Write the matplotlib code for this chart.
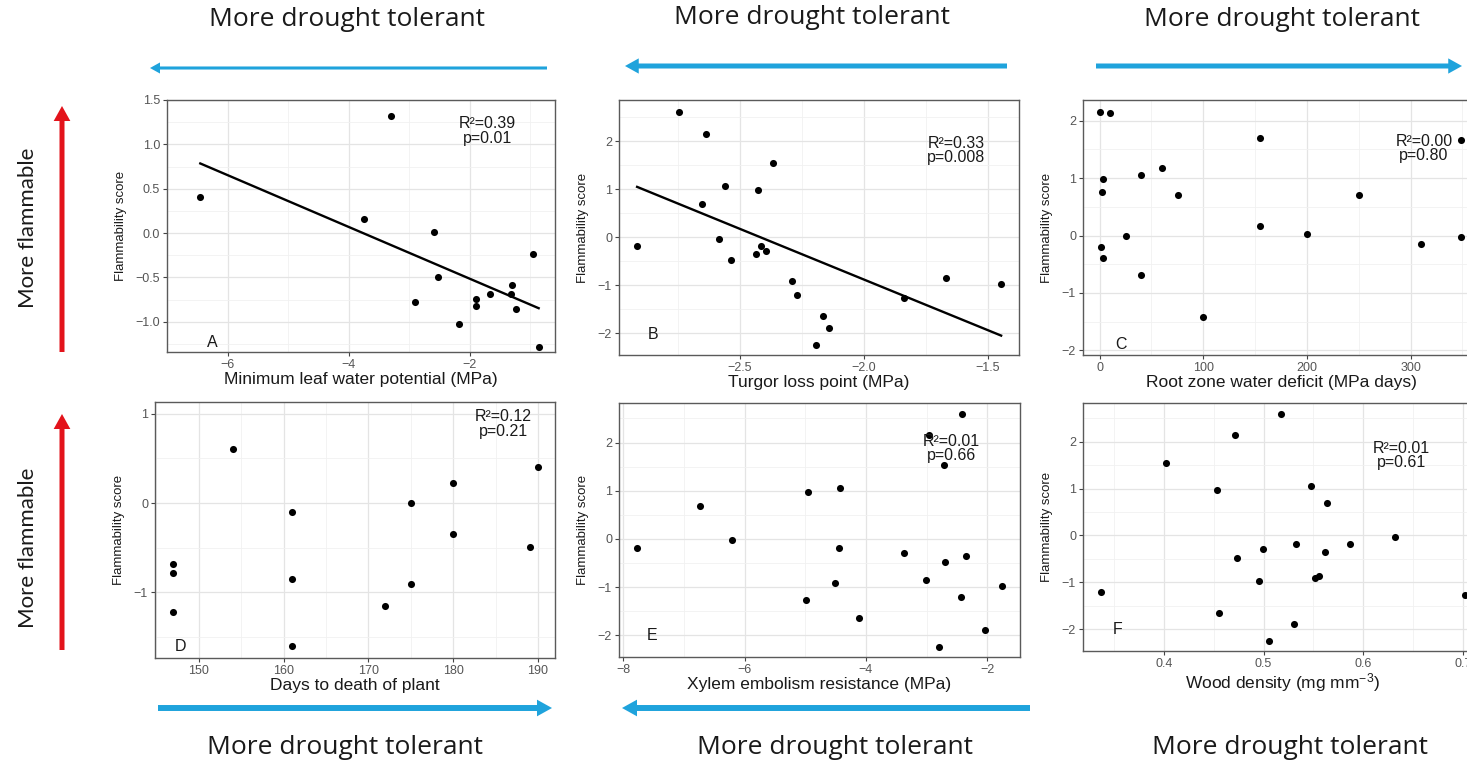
import numpy as np
import matplotlib
matplotlib.use("Agg")
import matplotlib.pyplot as plt

plt.rcParams['font.family'] = ['Liberation Sans', 'DejaVu Sans']
plt.rcParams['mathtext.fontset'] = 'custom'
plt.rcParams['mathtext.rm'] = 'Liberation Sans'
plt.rcParams['mathtext.it'] = 'Liberation Sans:italic'

# A: minimum leaf water potential
a_x = [-6.45, -3.30, -3.75, -2.59, -2.53, -2.90, -2.18, -1.89, -1.89, -1.66,
       -1.30, -1.32, -1.23, -0.95, -0.86]
a_y = [0.41, 1.32, 0.155, 0.01, -0.49, -0.78, -1.03, -0.74, -0.82, -0.69,
       -0.59, -0.69, -0.86, -0.23, -1.28]

# B: turgor loss point
b_x = [-2.746, -2.635, -2.365, -2.560, -2.427, -2.651, -2.914, -2.585, -2.536, -2.436,
       -2.413, -2.393, -2.290, -2.270, -2.164, -2.142, -2.193, -1.838, -1.668, -1.446]
b_y = [2.60, 2.15, 1.54, 1.06, 0.98, 0.70, -0.19, -0.03, -0.48, -0.35,
       -0.19, -0.28, -0.91, -1.20, -1.64, -1.89, -2.25, -1.26, -0.85, -0.98]

# C: root zone water deficit
c_x = [0.6, 10.5, 155, 349, 60.5, 40.4, 3.5, 2.2, 75.4, 250,
       155, 25.1, 200, 1.0, 3.5, 309.6, 349, 40.4, 100]
c_y = [2.15, 2.13, 1.70, 1.67, 1.17, 1.06, 0.98, 0.76, 0.70, 0.71,
       0.17, 0.0, 0.03, -0.20, -0.39, -0.145, -0.03, -0.69, -1.42]

# D: days to death of plant
d_x = [147, 147, 147, 154, 161, 161, 161, 172, 175, 175, 180, 180, 189, 190]
d_y = [-0.68, -0.78, -1.22, 0.61, -0.10, -0.85, -1.60, -1.16, 0.0, -0.91,
       0.23, -0.35, -0.49, 0.41]

# E: xylem embolism resistance
e_x = [-7.78, -6.73, -6.20, -4.95, -4.98, -4.43, -4.45, -4.51, -4.11, -3.37,
       -3.01, -2.96, -2.72, -2.70, -2.80, -2.42, -2.35, -2.43, -2.04, -1.76]
e_y = [-0.19, 0.69, -0.03, 0.98, -1.27, 1.05, -0.19, -0.91, -1.64, -0.29,
       -0.86, 2.15, 1.54, -0.48, -2.24, 2.59, -0.36, -1.20, -1.88, -0.98]

# F: wood density
f_x = [0.337, 0.402, 0.453, 0.455, 0.471, 0.473, 0.495, 0.499, 0.505, 0.517,
       0.531, 0.533, 0.548, 0.552, 0.556, 0.562, 0.564, 0.587, 0.632, 0.702]
f_y = [-1.20, 1.54, 0.98, -1.65, 2.15, -0.48, -0.98, -0.29, -2.25, 2.60,
       -1.89, -0.19, 1.06, -0.91, -0.86, -0.36, 0.69, -0.19, -0.04, -1.28]

panel_letters = ['A', 'B', 'C', 'D', 'E', 'F']
x_titles = ['Minimum leaf water potential (MPa)', 'Turgor loss point (MPa)',
            'Root zone water deficit (MPa days)', 'Days to death of plant',
            'Xylem embolism resistance (MPa)', 'Wood density (mg mm$^{-3}$)']
r2_labels = ['R\u00b2=0.39', 'R\u00b2=0.33', 'R\u00b2=0.00', 'R\u00b2=0.12', 'R\u00b2=0.01', 'R\u00b2=0.01']
p_labels = ['p=0.01', 'p=0.008', 'p=0.80', 'p=0.21', 'p=0.66', 'p=0.61']
arrow_text = 'More drought tolerant'
side_text = 'More flammable'

W, H = 1467, 762
fig = plt.figure(figsize=(W / 100, H / 100), dpi=100)
fig.patch.set_facecolor('white')


def px_axes(x0, y0, x1, y1):
    return fig.add_axes([x0 / W, 1 - y1 / H, (x1 - x0) / W, (y1 - y0) / H])


def draw_panel(ax, x, y, xlim, ylim, xmaj, xmin, ymaj, ymin, xtitle, letter, letter_xy,
               r2, p, stat_xy, fit=False, yfmt='{:g}'):
    ax.set_xlim(*xlim)
    ax.set_ylim(*ylim)
    ax.set_xticks(xmaj)
    ax.set_xticks(xmin, minor=True)
    ax.set_yticks(ymaj)
    ax.set_yticks(ymin, minor=True)
    ax.set_yticklabels([yfmt.format(v).replace('-', '\u2212') for v in ymaj])
    ax.grid(True, which='major', color='#e4e4e4', lw=0.9, zorder=0)
    ax.grid(True, which='minor', color='#f1f1f1', lw=0.6, zorder=0)
    ax.set_axisbelow(True)
    for s in ax.spines.values():
        s.set_color('#5a5a5a')
        s.set_linewidth(1.0)
    ax.tick_params(which='major', length=3, width=0.8, color='#444444',
                   labelsize=9, labelcolor='#555555', pad=2)
    ax.tick_params(which='minor', length=0)
    ax.scatter(x, y, s=26, color='black', zorder=3, linewidths=0)
    if fit:
        slope, icpt = np.polyfit(x, y, 1)
        xs = np.array([min(x), max(x)])
        ax.plot(xs, slope * xs + icpt, color='black', lw=1.7, zorder=2)
    ax.set_xlabel(xtitle, fontsize=12.5, color='#1a1a1a', labelpad=1)
    ax.set_ylabel('Flammability score', fontsize=9.5, color='#1a1a1a', labelpad=6)
    ax.text(*letter_xy, letter, fontsize=11.5, color='#1a1a1a', ha='center', va='center')
    ax.text(stat_xy[0], stat_xy[1], r2 + '\n' + p, fontsize=11.5, color='#1a1a1a',
            ha='center', va='center', linespacing=0.95)


ax_a = px_axes(167, 100, 555, 352)
draw_panel(ax_a, a_x, a_y, (-6.73, -0.59), (-1.34, 1.50), [-6, -4, -2], [-7, -5, -3, -1],
           [-1.0, -0.5, 0.0, 0.5, 1.0, 1.5], [-1.25, -0.75, -0.25, 0.25, 0.75, 1.25],
           x_titles[0], panel_letters[0], (-6.25, -1.23), r2_labels[0], p_labels[0],
           (-1.70, 1.15), fit=True, yfmt='{:.1f}')

ax_b = px_axes(619, 100, 1019, 355)
draw_panel(ax_b, b_x, b_y, (-2.987, -1.374), (-2.45, 2.86), [-2.5, -2.0, -1.5],
           [-2.75, -2.25, -1.75], [-2, -1, 0, 1, 2], [-1.5, -0.5, 0.5, 1.5, 2.5],
           x_titles[1], panel_letters[1], (-2.85, -2.02), r2_labels[1], p_labels[1],
           (-1.627, 1.81), fit=True)
ax_b.set_xticklabels(['\u22122.5', '\u22122.0', '\u22121.5'])

ax_c = px_axes(1083, 100, 1480, 355)
draw_panel(ax_c, c_x, c_y, (-16, 367), (-2.08, 2.36), [0, 100, 200, 300], [50, 150, 250, 350],
           [-2, -1, 0, 1, 2], [-1.5, -0.5, 0.5, 1.5], x_titles[2], panel_letters[2],
           (20.7, -1.90), r2_labels[2], p_labels[2], (313, 1.52))

ax_d = px_axes(155, 402, 555, 658)
draw_panel(ax_d, d_x, d_y, (144.85, 192.0), (-1.739, 1.134), [150, 160, 170, 180, 190],
           [145, 155, 165, 175, 185], [-1, 0, 1], [-1.5, -0.5, 0.5], x_titles[3],
           panel_letters[3], (147.8, -1.61), r2_labels[3], p_labels[3], (185.9, 0.885))

ax_e = px_axes(619, 403, 1020, 657)
draw_panel(ax_e, e_x, e_y, (-8.07, -1.46), (-2.45, 2.82), [-8, -6, -4, -2], [-7, -5, -3],
           [-2, -1, 0, 1, 2], [-1.5, -0.5, 0.5, 1.5, 2.5], x_titles[4], panel_letters[4],
           (-7.53, -2.01), r2_labels[4], p_labels[4], (-2.59, 1.87))

ax_f = px_axes(1083, 403, 1483, 651)
draw_panel(ax_f, f_x, f_y, (0.319, 0.72), (-2.47, 2.83), [0.4, 0.5, 0.6, 0.7],
           [0.35, 0.45, 0.55, 0.65], [-2, -1, 0, 1, 2], [-1.5, -0.5, 0.5, 1.5, 2.5],
           x_titles[5], panel_letters[5], (0.354, -2.02), r2_labels[5], p_labels[5],
           (0.638, 1.71))

# overlay in pixel coordinates for the direction arrows and their captions
ov = fig.add_axes([0, 0, 1, 1], facecolor='none')
ov.set_xlim(0, W)
ov.set_ylim(H, 0)
ov.axis('off')

blue = '#1fa3dc'
red = '#e3131b'


def arrow(x0, y0, x1, y1, color, width, head):
    ov.annotate('', xy=(x1, y1), xytext=(x0, y0),
                arrowprops=dict(facecolor=color, edgecolor='none', width=width,
                                headwidth=head, headlength=head * 0.9, shrink=0))


arrow(547, 68, 150, 68, blue, 2.2, 8)
arrow(1007, 66, 625, 66, blue, 3.6, 11)
arrow(1096, 66, 1462, 66, blue, 3.6, 11)
arrow(158, 708, 552, 708, blue, 4.3, 12)
arrow(1030, 708, 622, 708, blue, 4.3, 12)
arrow(1092, 708, 1475, 708, blue, 4.3, 12)
arrow(62, 352, 62, 106, red, 3.6, 12)
arrow(62, 650, 62, 414, red, 3.6, 12)

for cx, cy in [(347, 20), (812, 18), (1282, 20), (345, 748), (835, 748), (1290, 748)]:
    ov.text(cx, cy, arrow_text, fontsize=19, family='Open Sans', color='#1a1a1a',
            ha='center', va='center')
for cy in [228, 548]:
    ov.text(28, cy, side_text, fontsize=16, family='Lato', color='#1a1a1a',
            ha='center', va='center', rotation=90)

fig.savefig('out.png', dpi=100)
